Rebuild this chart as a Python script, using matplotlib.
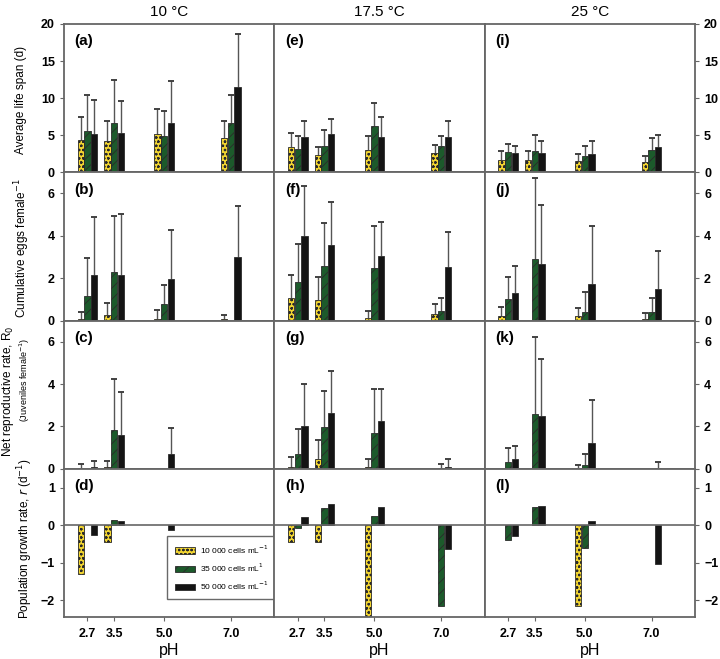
import numpy as np
import matplotlib.pyplot as plt
from matplotlib.patches import Patch

plt.rcParams['font.family'] = ['Liberation Sans', 'DejaVu Sans']
plt.rcParams['hatch.linewidth'] = 0.6

ph = np.array([2.7, 3.5, 5.0, 7.0])
temps = ['10 °C', '17.5 °C', '25 °C']
densities = ['10 000 cells mL$^{-1}$', '35 000 cells mL$^{1}$', '50 000 cells mL$^{-1}$']
panel_letters = [['(a)', '(e)', '(i)'], ['(b)', '(f)', '(j)'],
                 ['(c)', '(g)', '(k)'], ['(d)', '(h)', '(l)']]
nan = np.nan

# each block: [temperature][density] -> one value per pH (nan = no bar)
life_mean = [
    [[4.3, 4.15, 5.15, 4.6], [5.55, 6.7, 4.95, 6.7], [5.2, 5.3, 6.7, 11.5]],
    [[3.4, 2.35, 3.0, 2.65], [3.2, 3.55, 6.3, 3.5], [4.8, 5.15, 4.7, 4.8]],
    [[1.65, 1.65, 1.55, 1.45], [2.7, 2.9, 2.15, 3.0], [2.6, 2.6, 2.5, 3.35]],
]
life_top = [
    [[7.4, 6.9, 8.5, 6.9], [10.4, 12.5, 8.3, 10.4], [9.8, 9.6, 12.3, 18.6]],
    [[5.3, 3.4, 4.9, 3.7], [4.9, 5.65, 9.35, 4.9], [6.9, 7.2, 7.45, 6.85]],
    [[2.8, 2.8, 2.5, 2.15], [3.8, 5.0, 3.55, 4.65], [3.55, 4.15, 4.25, 5.05]],
]

eggs_mean = [
    [[0.08, 0.24, 0.08, 0.05], [1.18, 2.3, 0.8, nan], [2.15, 2.15, 1.96, 3.0]],
    [[1.07, 0.97, 0.14, 0.3], [1.8, 2.55, 2.47, 0.46], [4.0, 3.58, 3.05, 2.53]],
    [[0.19, nan, 0.19, 0.09], [1.0, 2.89, 0.42, 0.42], [1.3, 2.67, 1.74, 1.49]],
]
eggs_top = [
    [[0.4, 0.82, 0.5, 0.25], [2.95, 4.93, 1.68, nan], [4.9, 5.05, 4.27, 5.4]],
    [[2.17, 2.04, 0.47, 0.79], [3.6, 4.6, 4.46, 1.05], [6.33, 5.6, 4.63, 4.19]],
    [[0.66, nan, 0.58, 0.36], [2.07, 6.75, 1.35, 1.07], [2.56, 5.45, 4.44, 3.28]],
]

r0_mean = [
    [[0.02, 0.1, nan, nan], [nan, 1.85, nan, nan], [0.1, 1.6, 0.69, nan]],
    [[0.09, 0.45, 0.09, nan], [0.72, 1.96, 1.68, 0.02], [2.04, 2.63, 2.27, 0.09]],
    [[nan, nan, 0.02, nan], [0.31, 2.57, 0.16, nan], [0.44, 2.5, 1.23, 0.05]],
]
r0_top = [
    [[0.24, 0.38, nan, nan], [nan, 4.22, nan, nan], [0.35, 3.64, 1.91, nan]],
    [[0.55, 1.38, 0.44, nan], [1.88, 3.65, 3.76, 0.23], [4.0, 4.62, 3.76, 0.47]],
    [[nan, nan, 0.19, nan], [0.99, 6.22, 0.68, nan], [1.07, 5.2, 3.26, 0.33]],
]

r_mean = [
    [[-1.3, -0.44, nan, nan], [nan, 0.13, nan, nan], [-0.27, 0.1, -0.12, nan]],
    [[-0.44, -0.44, -2.6, nan], [-0.09, 0.45, 0.23, -2.17], [0.22, 0.56, 0.47, -0.64]],
    [[nan, nan, -2.17, nan], [-0.4, 0.47, -0.61, nan], [-0.28, 0.5, 0.1, -1.04]],
]

rows = [(life_mean, life_top), (eggs_mean, eggs_top), (r0_mean, r0_top), (r_mean, None)]
ylims = [(0, 20), (0, 7), (0, 7), (-2.45, 1.5)]
yticks = [[0, 5, 10, 15, 20], [0, 2, 4, 6], [0, 2, 4, 6], [-2, -1, 0, 1]]

colors = ['#f2d531', '#1c5a2b', '#141414']
hatches = ['oooo', '///', '']
offsets = [-0.2, 0.0, 0.2]
width = 0.19
spine_col = '#666666'

fig, axes = plt.subplots(4, 3, figsize=(7.2, 6.59), dpi=100)
fig.subplots_adjust(left=64/720, right=695/720, top=1-24/659, bottom=1-617/659,
                    hspace=0, wspace=0)

for i, (means, tops) in enumerate(rows):
    for j in range(3):
        ax = axes[i, j]
        for k in range(3):
            vals = np.array(means[j][k], dtype=float)
            ok = np.isfinite(vals)
            x = ph + offsets[k]
            ax.bar(x[ok], vals[ok], width=width, color=colors[k], hatch=hatches[k],
                   edgecolor='#2a2a2a', linewidth=0.6, zorder=2)
            if tops is not None:
                t = np.array(tops[j][k], dtype=float)
                ok2 = np.isfinite(t)
                base = np.where(np.isfinite(vals), vals, 0)
                ax.vlines(x[ok2], base[ok2], t[ok2], colors='#555555', lw=1.0, zorder=1)
                ax.plot(x[ok2], t[ok2], ls='none', marker='_', ms=4, mew=1.3,
                        color='#333333', zorder=1)
        if i == 3:
            ax.axhline(0, color=spine_col, lw=1.2, zorder=3)
        ax.set_xlim(2, 8.3)
        ax.set_ylim(*ylims[i])
        ax.set_yticks(yticks[i])
        for s in ax.spines.values():
            s.set_color(spine_col)
            s.set_linewidth(1.3)
        if i == 3:
            ax.set_xticks(ph)
            ax.set_xticklabels(['2.7', '3.5', '5.0', '7.0'], fontweight='bold', fontsize=9)
            ax.set_xlabel('pH', fontsize=11.5, labelpad=2)
        else:
            ax.set_xticks([2, 4, 6, 8])
            ax.set_xticklabels([])
        ax.tick_params(axis='x', length=3, color=spine_col, pad=5)
        if j == 0:
            ax.tick_params(axis='y', left=True, right=False, labelleft=True,
                           labelright=False, length=3, color=spine_col, labelsize=9)
        elif j == 2:
            ax.tick_params(axis='y', left=False, right=True, labelleft=False,
                           labelright=True, length=3, color=spine_col, labelsize=9)
        else:
            ax.tick_params(axis='y', left=False, right=False, labelleft=False)
        for lab in ax.get_yticklabels():
            lab.set_fontweight('bold')
        ax.text(0.05, 0.93, panel_letters[i][j], transform=ax.transAxes,
                fontsize=11, fontweight='bold', va='top', ha='left')
        if i == 0:
            ax.set_title(temps[j], fontsize=11, pad=6)

fig.text(21/720, 1-100/659, 'Average life span (d)', rotation=90,
         ha='center', va='center', fontsize=8.5)
fig.text(22/720, 1-248/659, 'Cumulative eggs female$^{-1}$', rotation=90,
         ha='center', va='center', fontsize=8.5)
fig.text(8/720, 1-391/659, 'Net reproductive rate, R$_0$', rotation=90,
         ha='center', va='center', fontsize=8.5)
fig.text(25/720, 1-380/659, '(Juveniles female$^{-1}$)', rotation=90,
         ha='center', va='center', fontsize=6.5)
fig.text(25/720, 1-539/659, 'Population growth rate, $r$ (d$^{-1}$)', rotation=90,
         ha='center', va='center', fontsize=8.5)

handles = [Patch(facecolor=colors[k], hatch=hatches[k], edgecolor='#2a2a2a',
                 linewidth=0.6, label=densities[k]) for k in range(3)]
leg = axes[3, 0].legend(handles=handles, loc='lower left', bbox_to_anchor=(0.47, 0.09),
                        fontsize=6, frameon=True, fancybox=False, handlelength=2.4,
                        handleheight=0.8, borderpad=0.9, labelspacing=0.7,
                        handletextpad=0.6)
leg.get_frame().set_edgecolor('#444444')
leg.get_frame().set_linewidth(1.0)

fig.savefig('out.png', dpi=100)
